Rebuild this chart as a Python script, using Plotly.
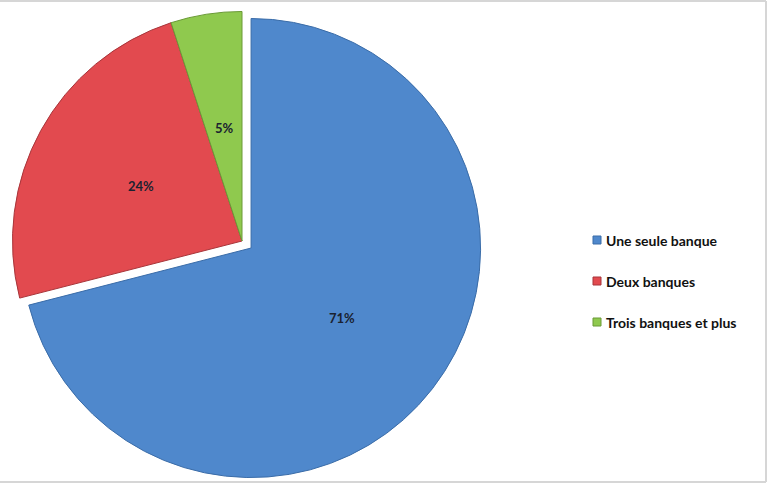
import math
import plotly.graph_objects as go

labels = ["Une seule banque", "Deux banques", "Trois banques et plus"]
values = [71, 24, 5]
colors = ["#4F88CC", "#E24A4F", "#8FC94E"]
edge_colors = ["#3A6CA8", "#A8353A", "#6A9A36"]
pulls = [0.05, 0, 0]

W, H = 768, 484
dom_x = [0, 484 / W]
dom_y = [2 / H, 1]

fig = go.Figure()
fig.add_trace(go.Pie(
    labels=labels,
    values=values,
    sort=False,
    direction="clockwise",
    rotation=0,
    pull=pulls,
    marker=dict(colors=colors, line=dict(color=edge_colors, width=1)),
    textinfo="none",
    domain=dict(x=dom_x, y=dom_y),
    showlegend=False,
    hoverinfo="label+percent",
))

# percentage labels at half radius along each slice bisector (Plotly's pie geometry)
box_w = (dom_x[1] - dom_x[0]) * W
box_h = (dom_y[1] - dom_y[0]) * H
cx = (dom_x[0] + dom_x[1]) / 2 * W
cy = (1 - (dom_y[0] + dom_y[1]) / 2) * H
r = min(box_w, box_h) / (2 + 2 * max(pulls))
total = sum(values)
annotations = []
cum = 0
for v, p in zip(values, pulls):
    mid = (cum + v / 2) / total
    cum += v
    th = 2 * math.pi * mid
    d = r * 0.5 + p * r
    px = cx + d * math.sin(th)
    py = cy - d * math.cos(th)
    annotations.append(dict(xref="paper", yref="paper", x=px / W, y=1 - py / H,
                            xanchor="center", yanchor="middle", showarrow=False,
                            text=f"{v}%",
                            font=dict(family="Lato", size=13, color="#1A2230", weight="bold")))

shapes = [
    dict(type="line", xref="paper", yref="paper", x0=0, x1=766 / W, y0=1 - 1 / H, y1=1 - 1 / H,
         line=dict(color="#D6D6D6", width=2)),
    dict(type="line", xref="paper", yref="paper", x0=766 / W, x1=766 / W, y0=1 - 1 / H, y1=1 - 482 / H,
         line=dict(color="#D6D6D6", width=2)),
    dict(type="line", xref="paper", yref="paper", x0=0, x1=766 / W, y0=1 - 482 / H, y1=1 - 482 / H,
         line=dict(color="#D6D6D6", width=2)),
]
leg_y = [240, 281, 322]
for lab, col, ec, yy in zip(labels, colors, edge_colors, leg_y):
    shapes.append(dict(type="rect", xref="paper", yref="paper",
                       x0=593 / W, x1=601 / W, y0=1 - (yy + 4) / H, y1=1 - (yy - 4) / H,
                       fillcolor=col, line=dict(color=ec, width=1)))
    annotations.append(dict(xref="paper", yref="paper", x=604 / W, y=1 - yy / H,
                            xanchor="left", yanchor="middle", showarrow=False,
                            text=lab, font=dict(family="Lato", size=14, color="#111111", weight="bold")))

fig.update_layout(
    width=W, height=H,
    margin=dict(l=0, r=0, t=0, b=0),
    paper_bgcolor="white",
    plot_bgcolor="white",
    shapes=shapes,
    annotations=annotations,
)

fig.write_html("out.html", config={"displayModeBar": False},
               post_script="document.body.style.margin='0px';")
